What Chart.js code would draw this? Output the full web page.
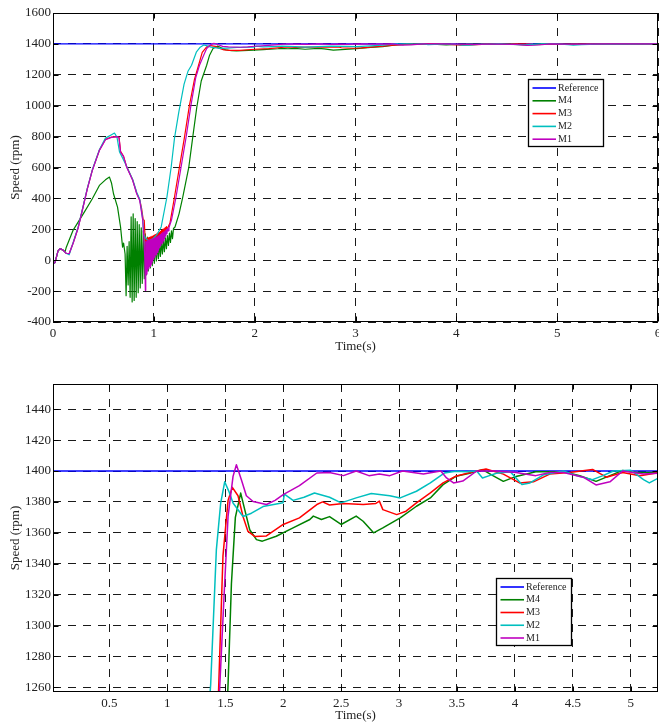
<!DOCTYPE html>
<html>
<head>
<meta charset="utf-8">
<title>Speed response</title>
<script src="https://cdn.jsdelivr.net/npm/chart.js@4.4.1/dist/chart.umd.min.js"></script>
<style>
    body { margin: 0; background: #fff; overflow: hidden; }
    canvas { position: absolute; left: 0; }
    #fullChart { top: 0; }
    #zoomChart { top: 362px; }
</style>
</head>
<body>
<canvas id="fullChart" width="659" height="360"></canvas>
<canvas id="zoomChart" width="659" height="362"></canvas>
<script>
// =====================
// DATA
// =====================
const seriesNames = ["Reference", "M4", "M3", "M2", "M1"];
const seriesColors = ["#0000ff", "#008000", "#ff0000", "#00bfbf", "#bf00bf"];

const refTime = [0, 6];
const refSpeed = [1400, 1400];

const m4Time = [
    0, 0.02, 0.05, 0.07, 0.1, 0.12, 0.13, 0.2, 0.3, 0.39, 0.46, 0.52, 0.56, 0.58, 0.6, 0.64, 0.67, 0.69,
    0.70, 0.715, 0.725, 0.735, 0.745, 0.755, 0.765, 0.775, 0.785, 0.795, 0.805, 0.815, 0.825, 0.835,
    0.845, 0.855, 0.865, 0.875, 0.885, 0.895, 0.905, 0.915, 0.925, 0.935, 0.945, 0.955, 0.965, 0.975,
    0.985, 0.995, 1.005, 1.015, 1.025, 1.035, 1.045, 1.055, 1.065, 1.075, 1.085, 1.095, 1.105, 1.115,
    1.125, 1.135, 1.145, 1.155, 1.165, 1.175, 1.185, 1.195,
    1.21, 1.25, 1.287, 1.347, 1.386, 1.426, 1.47, 1.524, 1.553, 1.587, 1.633, 1.668, 1.711, 1.769, 1.82,
    1.94, 2.085, 2.23, 2.26, 2.33, 2.4, 2.5, 2.63, 2.69, 2.78, 2.86, 3.01, 3.15, 3.27, 3.38, 3.49,
    3.61, 3.72, 3.81, 3.9, 4.01, 4.18, 4.42, 4.56, 4.7, 4.82, 4.93, 5.05, 5.24, 5.6, 6
];
const m4Speed = [
    -25, -15, 60, 75, 65, 55, 80, 195, 300, 398, 484, 520, 538, 500, 430, 344, 215, 85,
    110, 40, -230, 90, -160, 120, -240, 280, -270, 300, -260, 270, -240, 250,
    -210, 230, -180, 210, -150, 190, -120, 170, -95, 150, -70, 135, -50, 120,
    -35, 110, -20, 105, -5, 105, 10, 110, 25, 120, 40, 130, 55, 145,
    75, 160, 95, 175, 115, 190, 140, 205,
    215, 300, 409, 603, 797, 990, 1160, 1262, 1327, 1370, 1385.7, 1375, 1362, 1355.6, 1354.6,
    1357.8, 1363.2, 1368.6, 1370.8, 1368.6, 1370.5, 1365.4, 1370.8, 1367.5, 1360, 1363.2, 1369.7, 1377.2, 1382.6, 1391.2, 1396.6,
    1398.5, 1400.9, 1397, 1393.3, 1396.5, 1399.5, 1399.5, 1397, 1393.3, 1397, 1400.4, 1399, 1399, 1400, 1400
];

const m3Time = [
    0, 0.02, 0.05, 0.07, 0.1, 0.13, 0.16, 0.2, 0.25, 0.29, 0.34, 0.39, 0.46, 0.52, 0.58, 0.63, 0.655,
    0.67, 0.7, 0.73, 0.79, 0.83, 0.86, 0.88, 0.895, 0.905, 0.915,
    0.921, 0.927, 0.933, 0.939, 0.945, 0.951, 0.957, 0.963, 0.969, 0.975, 0.981, 0.987, 0.993, 0.999,
    1.005, 1.011, 1.017, 1.023, 1.029, 1.035, 1.041, 1.047, 1.053, 1.059, 1.065, 1.071, 1.077, 1.083,
    1.089, 1.095, 1.101, 1.107, 1.113, 1.119, 1.125, 1.131, 1.14,
    1.16, 1.205, 1.254, 1.304, 1.353, 1.403, 1.443, 1.48, 1.524, 1.561, 1.61, 1.653, 1.696, 1.754, 1.855,
    2.0, 2.14, 2.29, 2.34, 2.4, 2.52, 2.69, 2.8, 2.83, 2.86, 2.98, 3.06, 3.15, 3.27, 3.38, 3.49,
    3.64, 3.75, 3.9, 4.04, 4.16, 4.3, 4.47, 4.67, 4.79, 4.93, 5.08, 5.24, 5.6, 6
];
const m3Speed = [
    -25, -15, 60, 75, 65, 45, 42, 112, 212, 322, 462, 583, 712, 782, 797, 800, 795,
    705, 672, 606, 520, 435, 392, 330, 262, 258, 120,
    140, -50, 142, -35, 145, -20, 148, -5, 151, 10, 154, 25, 158, 40,
    162, 55, 166, 70, 171, 85, 176, 100, 181, 115, 187, 130, 193, 145,
    199, 160, 205, 175, 211, 190, 217, 203, 212,
    240, 409, 603, 797, 1002, 1170, 1260, 1345, 1381, 1389.4, 1384, 1370.6, 1360.9, 1357.7, 1358,
    1365.4, 1369.7, 1378.3, 1380, 1378, 1379, 1378.3, 1379, 1380.5, 1375, 1371.8, 1374, 1379.4, 1385.8, 1392.3, 1396.6,
    1399.5, 1401.3, 1398, 1392.3, 1393, 1398, 1399, 1401, 1396, 1399, 1397, 1399, 1400, 1400
];

const m2Time = [
    0, 0.02, 0.05, 0.07, 0.1, 0.13, 0.16, 0.2, 0.25, 0.29, 0.34, 0.39, 0.46, 0.52, 0.58, 0.61, 0.635,
    0.66, 0.69, 0.73, 0.79, 0.83, 0.86, 0.875, 0.89, 0.9, 0.92, 0.95, 0.99, 1.03, 1.073, 1.13, 1.172,
    1.205, 1.248, 1.3, 1.34, 1.374, 1.423, 1.46, 1.495, 1.53, 1.567, 1.653, 1.726, 1.826, 1.998, 2.01, 2.085,
    2.18, 2.27, 2.4, 2.5, 2.63, 2.76, 2.92, 3.01, 3.15, 3.27, 3.39, 3.49, 3.58, 3.67, 3.72, 3.78,
    3.84, 3.96, 4.06, 4.13, 4.25, 4.42, 4.53, 4.67, 4.76, 4.85, 5.0, 5.11, 5.16, 5.24, 5.4, 6
];
const m2Speed = [
    -25, -15, 60, 75, 65, 45, 35, 115, 215, 325, 465, 585, 715, 790, 812, 823, 795,
    700, 662, 608, 522, 440, 395, 335, 265, 165, 140, 125, 138, 165, 215, 409, 603,
    790, 960, 1140, 1225, 1262, 1349, 1379, 1393, 1387, 1379.3, 1370.6, 1372.7, 1377, 1379.4, 1385, 1381,
    1383, 1385.8, 1383, 1379.4, 1382.6, 1385.4, 1384, 1382.6, 1386.9, 1392.3, 1398.7, 1399.8, 1399.5, 1400, 1395.5, 1397,
    1398.5, 1399.5, 1391.2, 1392.3, 1397.6, 1400, 1397, 1394.4, 1397, 1400, 1400.5, 1394.4, 1392.3, 1395.5, 1398, 1400
];

const m1Time = [
    0, 0.02, 0.05, 0.07, 0.1, 0.13, 0.16, 0.2, 0.25, 0.29, 0.34, 0.39, 0.46, 0.52, 0.58, 0.64, 0.655,
    0.67, 0.7, 0.73, 0.79, 0.83, 0.86, 0.875, 0.89, 0.9, 0.91, 0.916,
    0.92, 0.926, 0.932, 0.938, 0.944, 0.95, 0.956, 0.962, 0.968, 0.974, 0.98, 0.986, 0.992, 0.998,
    1.004, 1.01, 1.016, 1.022, 1.028, 1.034, 1.04, 1.046, 1.052, 1.058, 1.064, 1.07, 1.076, 1.082,
    1.088, 1.094, 1.1, 1.106, 1.112, 1.118, 1.124, 1.13, 1.136, 1.142, 1.15,
    1.175, 1.22, 1.27, 1.32, 1.368, 1.415, 1.452, 1.49, 1.524, 1.567, 1.596, 1.639, 1.682, 1.74, 1.855, 1.93,
    2.0, 2.14, 2.29, 2.4, 2.52, 2.63, 2.74, 2.83, 2.92, 3.03, 3.12, 3.21, 3.36, 3.41, 3.47, 3.55,
    3.67, 3.84, 4.01, 4.18, 4.3, 4.42, 4.59, 4.7, 4.82, 4.93, 5.11, 5.24, 5.5, 6
];
const m1Speed = [
    -25, -15, 60, 75, 65, 45, 42, 110, 210, 320, 460, 581, 711, 780, 795, 800, 792,
    700, 670, 603, 517, 430, 387, 323, 258, 150, 20, -195,
    120, -90, 125, -70, 128, -55, 130, -40, 132, -25, 135, -10, 138, 5,
    142, 20, 146, 35, 150, 50, 155, 65, 160, 80, 166, 95, 172, 110,
    178, 125, 184, 140, 190, 155, 198, 172, 205, 190, 210,
    260, 409, 603, 797, 1002, 1180, 1260, 1320, 1370.6, 1396.5, 1404, 1394.4, 1384, 1380.3, 1378.3, 1381,
    1384.7, 1390.5, 1398.7, 1399, 1397, 1400, 1397, 1398, 1397, 1400, 1399, 1398, 1400, 1395.5, 1392.3, 1393.5,
    1400, 1400, 1399, 1397, 1399, 1399, 1396, 1391, 1393, 1400, 1398, 1398.5, 1400, 1400
];

// tick labels of both panels
const fullTimeTicks = [0, 1, 2, 3, 4, 5, 6];
const fullSpeedTicks = [-400, -200, 0, 200, 400, 600, 800, 1000, 1200, 1400, 1600];
const zoomTimeTicks = [0.5, 1, 1.5, 2, 2.5, 3, 3.5, 4, 4.5, 5];
const zoomSpeedTicks = [1260, 1280, 1300, 1320, 1340, 1360, 1380, 1400, 1420, 1440];

// =====================
// HELPERS
// =====================
const seriesData = [
    [refTime, refSpeed],
    [m4Time, m4Speed],
    [m3Time, m3Speed],
    [m2Time, m2Speed],
    [m1Time, m1Speed]
];

function toPoints(time, speed) {
    return time.map((t, i) => ({ x: t, y: speed[i] }));
}

// M1 first so it ends up on top, Reference last (drawn underneath)
function buildDatasets(width) {
    const sets = [];
    for (let i = seriesNames.length - 1; i >= 0; i--) {
        sets.push({
            label: seriesNames[i],
            data: toPoints(seriesData[i][0], seriesData[i][1]),
            borderColor: seriesColors[i],
            borderWidth: width,
            borderJoinStyle: "round",
            pointRadius: 0,
            tension: 0,
            fill: false
        });
    }
    return sets;
}

const FONT = "Liberation Serif";

// box around the plot with inward tick marks on all four sides
const framePlugin = {
    id: "frame",
    afterDraw(chart) {
        const { ctx, chartArea: a, scales } = chart;
        const l = Math.round(a.left) + 0.5, r = Math.round(a.right) - 0.5;
        const t = Math.round(a.top) + 0.5, b = Math.round(a.bottom) - 0.5;
        ctx.save();
        ctx.strokeStyle = "#000";
        ctx.lineWidth = 1;
        ctx.beginPath();
        scales.x.ticks.forEach(tk => {
            const px = Math.round(scales.x.getPixelForValue(tk.value)) + 0.5;
            ctx.moveTo(px, b); ctx.lineTo(px, b - 5);
            ctx.moveTo(px, t); ctx.lineTo(px, t + 5);
        });
        scales.y.ticks.forEach(tk => {
            const py = Math.round(scales.y.getPixelForValue(tk.value)) + 0.5;
            ctx.moveTo(l, py); ctx.lineTo(l + 5, py);
            ctx.moveTo(r, py); ctx.lineTo(r - 5, py);
        });
        ctx.stroke();
        ctx.strokeRect(l, t, r - l, b - t);
        ctx.restore();
    }
};

// boxed legend in the plotting style
const boxLegendPlugin = {
    id: "boxLegend",
    afterDraw(chart, args, opts) {
        const ctx = chart.ctx;
        ctx.save();
        ctx.fillStyle = "#fff";
        ctx.fillRect(opts.x, opts.y, opts.w, opts.h);
        ctx.strokeStyle = "#000";
        ctx.lineWidth = 1.3;
        ctx.strokeRect(opts.x + 0.5, opts.y + 0.5, opts.w, opts.h);
        ctx.font = "10px '" + FONT + "'";
        ctx.textBaseline = "middle";
        seriesNames.forEach((name, i) => {
            const y = opts.y + opts.first + i * opts.gap;
            ctx.strokeStyle = seriesColors[i];
            ctx.lineWidth = 1.6;
            ctx.beginPath();
            ctx.moveTo(opts.x + 4.5, y);
            ctx.lineTo(opts.x + 28, y);
            ctx.stroke();
            ctx.fillStyle = "#222";
            ctx.fillText(name, opts.x + 30, y);
        });
        ctx.restore();
    }
};

function fixTicks(values) {
    return scale => { scale.ticks = values.map(v => ({ value: v })); };
}

function makeChart(id, cfg) {
    return new Chart(document.getElementById(id), {
        type: "line",
        data: { datasets: buildDatasets(cfg.lineWidth) },
        plugins: [framePlugin, boxLegendPlugin],
        options: {
            responsive: false,
            animation: false,
            events: [],
            layout: { padding: { top: cfg.padTop, right: 1, left: 0, bottom: 0 } },
            plugins: {
                legend: { display: false },
                tooltip: { enabled: false },
                boxLegend: cfg.legend
            },
            scales: {
                x: {
                    type: "linear",
                    min: cfg.xMin,
                    max: cfg.xMax,
                    afterBuildTicks: fixTicks(cfg.xTicks),
                    afterFit: s => { s.height = cfg.xAxisHeight; s.paddingLeft = 0; s.paddingRight = 0; },
                    grid: { color: "#1a1a1a", lineWidth: 1, drawTicks: false },
                    border: { display: false, dash: [8, 7] },
                    ticks: {
                        padding: 4,
                        maxRotation: 0,
                        autoSkip: false,
                        color: "#222",
                        font: { family: FONT, size: 13 },
                        callback: v => String(v)
                    },
                    title: {
                        display: true,
                        text: "Time(s)",
                        color: "#222",
                        font: { family: FONT, size: 13 },
                        padding: { top: 0, bottom: cfg.xTitlePad }
                    }
                },
                y: {
                    min: cfg.yMin,
                    max: cfg.yMax,
                    afterBuildTicks: fixTicks(cfg.yTicks),
                    afterFit: s => { s.width = 53; s.paddingTop = 0; s.paddingBottom = 0; },
                    grid: { color: "#1a1a1a", lineWidth: 1, drawTicks: false },
                    border: { display: false, dash: [8, 7] },
                    ticks: {
                        padding: 2,
                        autoSkip: false,
                        color: "#222",
                        font: { family: FONT, size: 13 },
                        callback: v => String(v)
                    },
                    title: {
                        display: true,
                        text: "Speed (rpm)",
                        color: "#222",
                        font: { family: FONT, size: 13 },
                        padding: { top: 8, bottom: 0 }
                    }
                }
            }
        }
    });
}

// =====================
// CHARTS
// =====================
makeChart("fullChart", {
    xMin: 0, xMax: 6, yMin: -400, yMax: 1600,
    xTicks: fullTimeTicks, yTicks: fullSpeedTicks,
    padTop: 13, xAxisHeight: 38, xTitlePad: 5.5, lineWidth: 1.2,
    legend: { x: 528, y: 79, w: 75, h: 67, first: 9, gap: 12.8 }
});

makeChart("zoomChart", {
    xMin: 0.013, xMax: 5.235, yMin: 1257, yMax: 1456.3,
    xTicks: zoomTimeTicks, yTicks: zoomSpeedTicks,
    padTop: 22, xAxisHeight: 32, xTitlePad: 0.5, lineWidth: 1.5,
    legend: { x: 496, y: 216, w: 75, h: 67, first: 9, gap: 12.75 }
});
</script>
</body>
</html>
